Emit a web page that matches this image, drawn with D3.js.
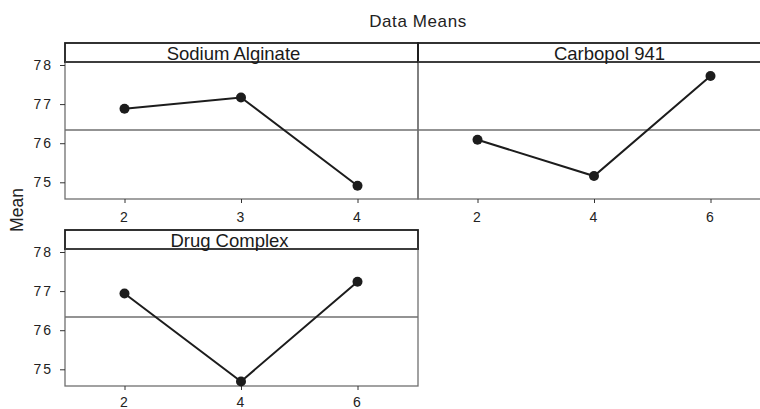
<!DOCTYPE html>
<html>
<head>
<meta charset="utf-8">
<script src="https://cdn.jsdelivr.net/npm/d3@7"></script>
<style>
  body { margin: 0; background: #fff; }
  svg { display: block; font-family: "Liberation Sans", Arial, sans-serif; }
</style>
</head>
<body>
<div id="chart"></div>
<script>
// Données
const factors = ['Sodium Alginate', 'Carbopol 941', 'Drug Complex'];
const levelsSA = [2, 3, 4];
const meansSA = [76.88, 77.17, 74.91];
const levelsCP = [2, 4, 6];
const meansCP = [76.09, 75.16, 77.72];
const levelsDC = [2, 4, 6];
const meansDC = [76.94, 74.69, 77.24];
const grandMean = 76.34;
const yTicks = [75, 76, 77, 78];

const panels = [
    { name: factors[0], levels: levelsSA, means: meansSA, col: 0, row: 0, dx: -8 },
    { name: factors[1], levels: levelsCP, means: meansCP, col: 1, row: 0, dx: 15 },
    { name: factors[2], levels: levelsDC, means: meansDC, col: 0, row: 1, dx: -12 }
];

const width = 760, height = 409;
const colX = [65, 418];
const rowY = [43, 230];
const xPad = [9.5, 7.5];
const panelW = 353, stripH = 19, plotH = 137;
const dark = '#1c1c1c', grey = '#6f6f6f';

const svg = d3.select('#chart').append('svg')
    .attr('width', width)
    .attr('height', height);

// Titre
svg.append('text')
    .attr('x', 418).attr('y', 27)
    .attr('text-anchor', 'middle')
    .attr('font-size', 17)
    .attr('letter-spacing', 0.6)
    .attr('fill', '#222')
    .text('Data Means');

// Libellé de l'axe Y
svg.append('text')
    .attr('transform', 'translate(23,210) rotate(-90)')
    .attr('text-anchor', 'middle')
    .attr('font-size', 17.5)
    .attr('fill', '#222')
    .text('Mean');

// Echelle Y commune (même domaine pour tous les panneaux)
const yScale = d3.scaleLinear()
    .domain([74.573, 78.077])
    .range([plotH, 0]);

function styleTicks(a) {
    a.select('.domain').remove();
    a.selectAll('.tick line').attr('stroke', '#333');
    a.selectAll('.tick text')
        .attr('fill', '#222')
        .attr('font-size', 14)
        .attr('font-family', '"Liberation Sans", Arial, sans-serif')
        .attr('letter-spacing', 2);
}

panels.forEach(p => {
    const x0 = colX[p.col], y0 = rowY[p.row];
    const g = svg.append('g').attr('transform', `translate(${x0},${y0})`);
    const py = stripH;

    const lo = d3.min(p.levels), hi = d3.max(p.levels);
    const x = d3.scaleLinear().domain([lo, hi]).range([59.5, 292.5]);
    const y = v => py + yScale(v);

    // Cadre de la zone de tracé
    g.append('rect')
        .attr('x', 0).attr('y', py)
        .attr('width', panelW).attr('height', plotH)
        .attr('fill', 'none')
        .attr('stroke', grey).attr('stroke-width', 1.3);

    // Bandeau du facteur
    g.append('rect')
        .attr('x', 0).attr('y', 0)
        .attr('width', panelW).attr('height', stripH)
        .attr('fill', 'none')
        .attr('stroke', dark).attr('stroke-width', 1.8);
    g.append('line')
        .attr('x1', 0).attr('x2', panelW)
        .attr('y1', stripH).attr('y2', stripH)
        .attr('stroke', '#444').attr('stroke-width', 1.5);
    g.append('text')
        .attr('x', panelW / 2 + p.dx).attr('y', 16.5)
        .attr('text-anchor', 'middle')
        .attr('font-size', 18.5)
        .attr('fill', '#1a1a1a')
        .text(p.name);

    // Moyenne générale
    g.append('line')
        .attr('x1', 0).attr('x2', panelW)
        .attr('y1', y(grandMean)).attr('y2', y(grandMean))
        .attr('stroke', grey).attr('stroke-width', 1.5);

    // Axe X
    g.append('g')
        .attr('transform', `translate(0,${py + plotH})`)
        .call(d3.axisBottom(x).tickValues(p.levels).tickSize(4).tickPadding(xPad[p.row]).tickFormat(d3.format('d')))
        .call(styleTicks);

    // Axe Y (colonne de gauche seulement)
    if (p.col === 0) {
        g.append('g')
            .attr('transform', `translate(0,${py})`)
            .call(d3.axisLeft(yScale).tickValues(yTicks).tickSize(5).tickPadding(7).tickFormat(d3.format('d')))
            .call(styleTicks);
    }

    // Ligne des moyennes
    const pts = p.levels.map((l, i) => [x(l), y(p.means[i])]);
    g.append('path')
        .attr('d', d3.line()(pts))
        .attr('fill', 'none')
        .attr('stroke', dark).attr('stroke-width', 2);
    g.selectAll('circle.pt')
        .data(pts)
        .enter().append('circle')
        .attr('class', 'pt')
        .attr('cx', d => d[0]).attr('cy', d => d[1])
        .attr('r', 5)
        .attr('fill', dark);
});
</script>
</body>
</html>
